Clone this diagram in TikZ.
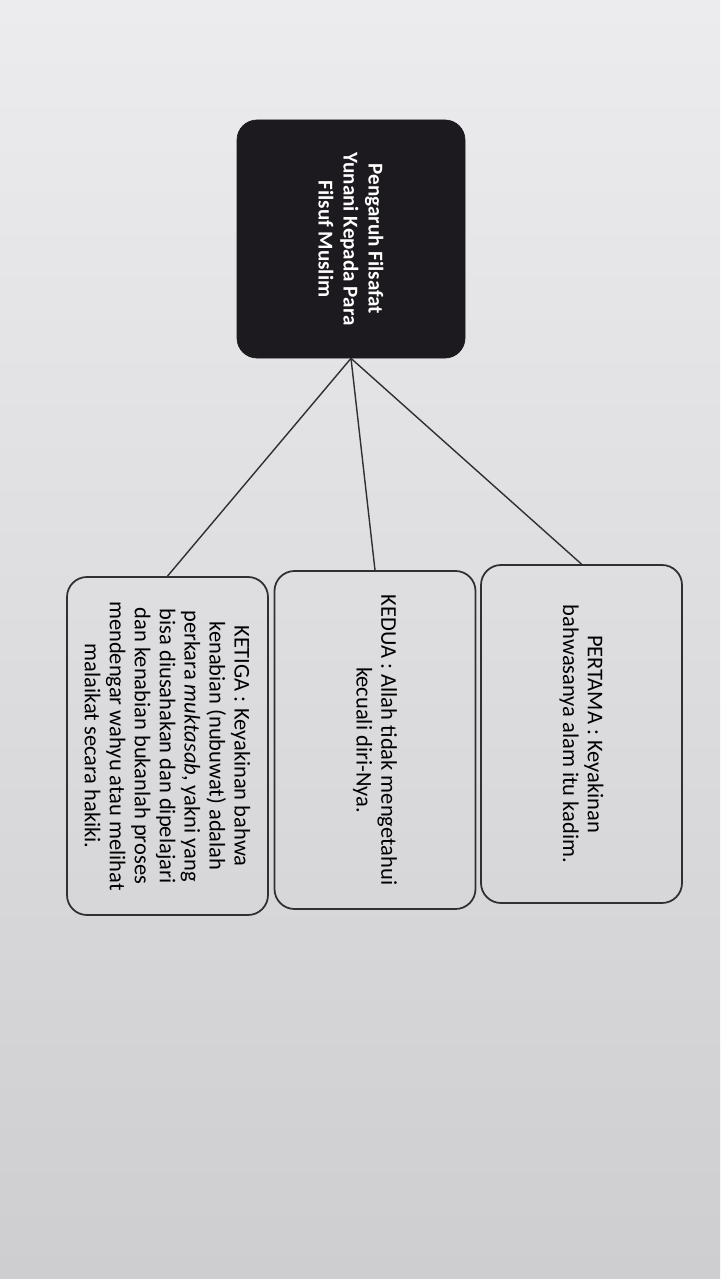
\documentclass[tikz,border=0pt]{standalone}
\usepackage{fontspec}
\setmainfont{Carlito}
\usetikzlibrary{positioning}
\definecolor{inkline}{RGB}{48,48,52}
\definecolor{rootfill}{RGB}{28,26,30}
\definecolor{paperhi}{RGB}{236,236,238}
\definecolor{paperlo}{RGB}{206,206,208}
\tikzset{
  rootbox/.style={rectangle,rounded corners=0.4cm,fill=rootfill,draw=rootfill,text=white,align=center,rotate=-90,font=\bfseries\fontsize{12}{14.2}\selectfont,minimum width=4.76cm,minimum height=4.56cm},
  pointbox/.style={rectangle,rounded corners=0.4cm,draw=inkline,line width=1pt,align=center,rotate=-90,font=\fontsize{12.8}{14.2}\selectfont,minimum width=6.76cm,minimum height=4.02cm,inner sep=0pt},
  link/.style={draw=inkline,line width=0.8pt}
}

\begin{document}
\begin{tikzpicture}
  % photo paper
  \shade[top color=paperhi,bottom color=paperlo] (0,0) rectangle (14.4,-25.58);
  \useasboundingbox (0,0) rectangle (14.4,-25.58);
  \node[rootbox] (root) at (7.02,-4.78) {Pengaruh Filsafat\\Yunani Kepada Para\\Filsuf Muslim};
  \node[pointbox] (pertama) at (11.63,-14.68) {PERTAMA : Keyakinan\\bahwasanya alam itu kadim.};
  \node[pointbox] (kedua) at (7.5,-14.8) {KEDUA : Allah tidak mengetahui\\kecuali diri-Nya.};
  \node[pointbox] (ketiga) at (3.35,-14.92) {KETIGA : Keyakinan bahwa\\kenabian (nubuwat) adalah\\perkara \textit{muktasab}, yakni yang\\bisa diusahakan dan dipelajari\\dan kenabian bukanlah proses\\mendengar wahyu atau melihat\\malaikat secara hakiki.};
  \draw[link] (root.east) -- (pertama.west);
  \draw[link] (root.east) -- (kedua.west);
  \draw[link] (root.east) -- (ketiga.west);
\end{tikzpicture}
\end{document}
